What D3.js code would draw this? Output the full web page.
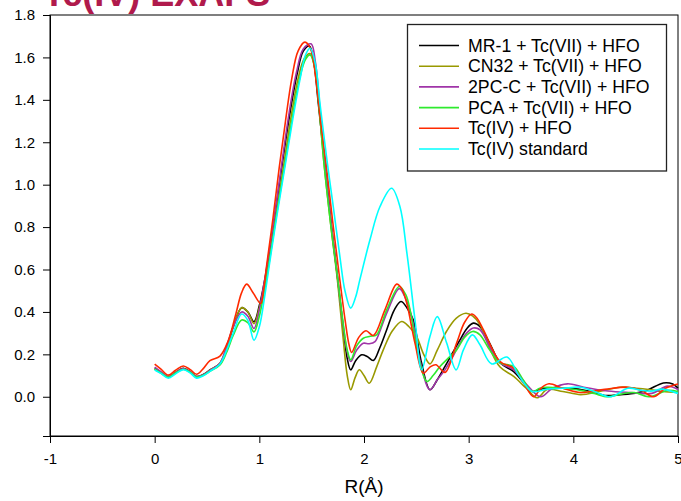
<!DOCTYPE html>
<html>
<head>
<meta charset="utf-8">
<script src="https://cdn.jsdelivr.net/npm/d3@7"></script>
<style>
  html, body { margin: 0; padding: 0; background: #fff; }
  svg { display: block; }
  text { font-family: "Liberation Sans", Arial, sans-serif; }
</style>
</head>
<body>
<svg id="chart" width="681" height="501"></svg>
<script>
// ---- Data ----
const titleText = "Tc(IV) EXAFS";
const xLabel = "R(Å)";
const xTicks = [-1, 0, 1, 2, 3, 4, 5];
const yTicks = [0.0, 0.2, 0.4, 0.6, 0.8, 1.0, 1.2, 1.4, 1.6, 1.8];
const seriesNames = ["MR-1 + Tc(VII) + HFO", "CN32 + Tc(VII) + HFO", "2PC-C + Tc(VII) + HFO",
                     "PCA + Tc(VII) + HFO", "Tc(IV) + HFO", "Tc(IV) standard"];
const seriesColors = ["#000000", "#999900", "#a035a8", "#2eea2e", "#ff2a00", "#00ffff"];

// [R, |FT|] pairs
const mr1 = [[0,0.134],[0.06,0.115],[0.13,0.094],[0.2,0.115],[0.273,0.134],[0.34,0.118],[0.40,0.095],[0.46,0.104],[0.528,0.126],[0.624,0.157],[0.688,0.228],[0.751,0.33],[0.831,0.42],[0.89,0.40],[0.949,0.354],[1.0,0.43],[1.04,0.52],[1.08,0.63],[1.15,0.86],[1.22,1.10],[1.29,1.33],[1.36,1.52],[1.42,1.63],[1.478,1.654],[1.52,1.58],[1.56,1.40],[1.625,1.10],[1.69,0.80],[1.746,0.567],[1.80,0.33],[1.84,0.18],[1.873,0.127],[1.92,0.17],[1.978,0.198],[2.03,0.19],[2.089,0.171],[2.15,0.23],[2.217,0.316],[2.29,0.41],[2.353,0.449],[2.41,0.42],[2.47,0.363],[2.55,0.159],[2.63,0.033],[2.70,0.08],[2.774,0.143],[2.85,0.21],[2.917,0.268],[2.98,0.32],[3.044,0.347],[3.108,0.331],[3.2,0.253],[3.3,0.16],[3.43,0.119],[3.52,0.07],[3.607,0.025],[3.68,0.035],[3.75,0.042],[3.9,0.04],[4.07,0.034],[4.2,0.02],[4.3,0.006],[4.45,0.01],[4.55,0.014],[4.7,0.03],[4.86,0.065],[4.95,0.06],[5.0,0.04]];
const cn32 = [[0,0.13],[0.06,0.112],[0.13,0.093],[0.2,0.113],[0.273,0.132],[0.34,0.116],[0.40,0.094],[0.46,0.102],[0.528,0.125],[0.624,0.158],[0.688,0.23],[0.751,0.33],[0.831,0.42],[0.89,0.40],[0.949,0.345],[1.0,0.42],[1.04,0.50],[1.09,0.63],[1.16,0.86],[1.235,1.10],[1.30,1.31],[1.37,1.50],[1.43,1.595],[1.485,1.618],[1.53,1.55],[1.57,1.37],[1.618,1.10],[1.685,0.80],[1.746,0.55],[1.80,0.28],[1.84,0.10],[1.873,0.033],[1.915,0.09],[1.955,0.127],[2.0,0.10],[2.05,0.064],[2.12,0.14],[2.184,0.221],[2.27,0.31],[2.36,0.355],[2.43,0.33],[2.503,0.284],[2.57,0.20],[2.63,0.155],[2.70,0.22],[2.79,0.31],[2.88,0.37],[2.974,0.394],[3.04,0.38],[3.108,0.34],[3.2,0.23],[3.3,0.14],[3.43,0.096],[3.55,0.04],[3.654,-0.005],[3.75,0.034],[3.9,0.025],[4.07,0.01],[4.25,0.025],[4.45,0.045],[4.6,0.04],[4.72,0.034],[4.85,0.025],[5.0,0.02]];
const pc2 = [[0,0.14],[0.06,0.118],[0.13,0.095],[0.2,0.114],[0.273,0.133],[0.34,0.117],[0.40,0.095],[0.46,0.103],[0.528,0.124],[0.624,0.158],[0.688,0.24],[0.751,0.33],[0.831,0.40],[0.89,0.38],[0.949,0.322],[1.0,0.41],[1.04,0.52],[1.08,0.64],[1.15,0.87],[1.215,1.10],[1.285,1.34],[1.355,1.53],[1.42,1.64],[1.494,1.664],[1.535,1.58],[1.575,1.38],[1.625,1.10],[1.69,0.80],[1.746,0.567],[1.80,0.34],[1.84,0.21],[1.873,0.166],[1.93,0.22],[1.993,0.252],[2.05,0.25],[2.105,0.26],[2.16,0.32],[2.217,0.394],[2.337,0.51],[2.40,0.46],[2.455,0.378],[2.535,0.17],[2.63,0.033],[2.70,0.08],[2.774,0.127],[2.85,0.19],[2.917,0.253],[2.98,0.30],[3.044,0.324],[3.108,0.316],[3.2,0.237],[3.3,0.16],[3.43,0.127],[3.55,0.06],[3.687,0.0],[3.8,0.04],[3.944,0.061],[4.1,0.045],[4.33,0.027],[4.55,0.02],[4.75,0.016],[4.9,0.05],[5.0,0.034]];
const pca = [[0,0.13],[0.06,0.112],[0.13,0.092],[0.2,0.112],[0.273,0.13],[0.34,0.115],[0.40,0.093],[0.46,0.1],[0.528,0.12],[0.624,0.15],[0.688,0.21],[0.751,0.29],[0.831,0.362],[0.89,0.35],[0.949,0.306],[1.0,0.38],[1.045,0.49],[1.09,0.62],[1.165,0.86],[1.245,1.10],[1.31,1.30],[1.38,1.49],[1.44,1.59],[1.485,1.612],[1.53,1.55],[1.57,1.37],[1.618,1.10],[1.685,0.80],[1.746,0.567],[1.80,0.35],[1.84,0.22],[1.873,0.174],[1.93,0.24],[1.993,0.276],[2.06,0.285],[2.12,0.292],[2.217,0.41],[2.337,0.52],[2.40,0.48],[2.44,0.41],[2.52,0.19],[2.6,0.072],[2.66,0.10],[2.726,0.143],[2.80,0.18],[2.885,0.221],[2.96,0.28],[3.038,0.308],[3.108,0.292],[3.2,0.221],[3.3,0.16],[3.43,0.143],[3.52,0.08],[3.607,0.025],[3.68,0.04],[3.75,0.045],[3.9,0.04],[4.07,0.03],[4.2,0.015],[4.33,0.0],[4.45,0.012],[4.58,0.02],[4.72,0.0],[4.9,0.03],[5.0,0.025]];
const tc4hfo = [[0,0.154],[0.06,0.13],[0.13,0.102],[0.2,0.125],[0.273,0.145],[0.34,0.128],[0.40,0.106],[0.46,0.13],[0.528,0.17],[0.624,0.192],[0.70,0.26],[0.777,0.393],[0.83,0.49],[0.879,0.531],[0.94,0.49],[1.013,0.44],[1.04,0.5],[1.07,0.62],[1.13,0.84],[1.19,1.08],[1.25,1.3],[1.31,1.50],[1.37,1.63],[1.436,1.672],[1.49,1.64],[1.54,1.5],[1.59,1.28],[1.637,1.10],[1.70,0.83],[1.765,0.567],[1.82,0.36],[1.855,0.25],[1.882,0.209],[1.95,0.28],[2.019,0.311],[2.089,0.289],[2.2,0.41],[2.312,0.531],[2.36,0.51],[2.408,0.442],[2.487,0.253],[2.567,0.111],[2.63,0.14],[2.687,0.151],[2.774,0.115],[2.885,0.253],[2.96,0.35],[3.029,0.39],[3.08,0.37],[3.14,0.316],[3.3,0.166],[3.43,0.135],[3.52,0.07],[3.62,0.0],[3.69,0.04],[3.767,0.061],[3.9,0.04],[4.07,0.02],[4.3,0.035],[4.52,0.045],[4.65,0.03],[4.765,0.0],[4.88,0.04],[5.0,0.06]];
const tc4std = [[0,0.126],[0.06,0.11],[0.13,0.088],[0.2,0.108],[0.273,0.128],[0.34,0.112],[0.40,0.088],[0.46,0.098],[0.528,0.12],[0.624,0.155],[0.688,0.22],[0.751,0.30],[0.831,0.39],[0.89,0.36],[0.949,0.267],[1.0,0.33],[1.05,0.47],[1.095,0.62],[1.17,0.86],[1.25,1.10],[1.32,1.31],[1.39,1.50],[1.44,1.61],[1.485,1.643],[1.535,1.57],[1.58,1.38],[1.65,1.10],[1.70,0.92],[1.77,0.66],[1.818,0.50],[1.873,0.418],[1.92,0.47],[1.96,0.551],[2.057,0.74],[2.153,0.897],[2.264,0.983],[2.343,0.897],[2.41,0.677],[2.487,0.363],[2.551,0.127],[2.63,0.284],[2.70,0.378],[2.79,0.253],[2.88,0.127],[2.95,0.221],[3.035,0.292],[3.108,0.245],[3.22,0.155],[3.366,0.187],[3.48,0.10],[3.607,0.025],[3.75,0.036],[3.9,0.04],[4.07,0.045],[4.2,0.025],[4.36,0.0],[4.52,0.04],[4.65,0.03],[4.76,0.027],[4.84,0.036],[5.0,0.016]];

const seriesData = [mr1, cn32, pc2, pca, tc4hfo, tc4std];

// ---- Layout ----
const svg = d3.select("#chart");
const plotL = 50, plotR = 678, plotT = 15, plotB = 436;
const x = d3.scaleLinear().domain([-1, 5]).range([plotL, plotR]);
const y = d3.scaleLinear().domain([-0.185, 1.8]).range([plotB, plotT]);

// Title (partly cut off at the top, as in the reference)
svg.append("text")
  .attr("x", 43).attr("y", 6)
  .attr("font-size", 36).attr("font-weight", "bold")
  .attr("fill", "#b01a4c")
  .text(titleText);

// Frame
svg.append("rect")
  .attr("x", plotL).attr("y", plotT)
  .attr("width", plotR - plotL).attr("height", plotB - plotT)
  .attr("fill", "none").attr("stroke", "#000").attr("stroke-width", 1);

// Axes
const xAxis = d3.axisBottom(x).tickValues(xTicks).tickSize(7).tickPadding(10).tickFormat(d => String(d));
const yAxis = d3.axisLeft(y).tickValues(yTicks).tickSize(7).tickPadding(8).tickFormat(d3.format(".1f"));

const gx = svg.append("g").attr("transform", `translate(0,${plotB})`).call(xAxis);
const gy = svg.append("g").attr("transform", `translate(${plotL},0)`).call(yAxis);
[gx, gy].forEach(g => {
  g.select(".domain").attr("stroke", "#000");
  g.selectAll(".tick line").attr("stroke", "#000");
  g.selectAll(".tick text").attr("font-size", 15).attr("fill", "#000")
    .attr("font-family", "'Liberation Sans', Arial, sans-serif");
});

// X axis label
svg.append("text")
  .attr("x", (plotL + plotR) / 2).attr("y", 493)
  .attr("text-anchor", "middle").attr("font-size", 19).attr("fill", "#000")
  .text(xLabel);

// Lines
const line = d3.line()
  .x(d => x(d[0])).y(d => y(d[1]))
  .curve(d3.curveCatmullRom.alpha(0.5));

svg.append("g").selectAll("path")
  .data(seriesData)
  .join("path")
  .attr("d", line)
  .attr("fill", "none")
  .attr("stroke", (d, i) => seriesColors[i])
  .attr("stroke-width", 1.6);

// Legend
const lg = svg.append("g");
lg.append("rect")
  .attr("x", 407.5).attr("y", 24.5).attr("width", 259).attr("height", 146.5)
  .attr("fill", "#fff").attr("stroke", "#222").attr("stroke-width", 1.3);
const rowY = d3.scaleLinear().domain([0, 5]).range([45.5, 149]);
seriesNames.forEach((name, i) => {
  lg.append("line")
    .attr("x1", 419).attr("x2", 459)
    .attr("y1", rowY(i)).attr("y2", rowY(i))
    .attr("stroke", seriesColors[i]).attr("stroke-width", 1.6);
  lg.append("text")
    .attr("x", 468).attr("y", rowY(i) + 6)
    .attr("font-size", 17.7).attr("fill", "#000")
    .text(name);
});
</script>
</body>
</html>
